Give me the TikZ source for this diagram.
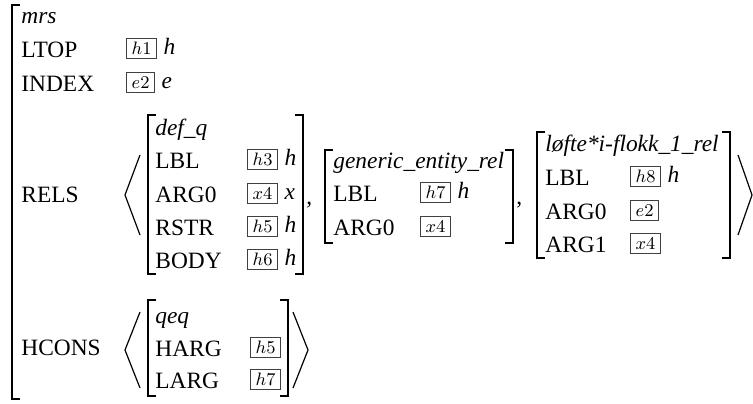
\documentclass[tikz,border=0pt]{standalone}
\usepackage{fontspec}
\setmainfont{Liberation Serif}
\usetikzlibrary{positioning}
\tikzset{
  feat/.style={anchor=base west,inner sep=0pt,font=\fontsize{11.7}{14}\selectfont},
  typ/.style={feat,font=\fontsize{11.7}{14}\selectfont\itshape},
  val/.style={feat,font=\fontsize{11.7}{14}\selectfont\itshape},
  tag/.style={draw=black!75,line width=0.5pt,anchor=base west,yshift=1.3pt,
    inner xsep=2.6pt,inner ysep=1.8pt,text height=6.2pt,text depth=0pt,
    font=\fontsize{9}{10}\selectfont},
  brk/.style={line width=0.8pt},
  ang/.style={line width=0.6pt}
}

\begin{document}
\begin{tikzpicture}[x=0.5pt,y=-0.5pt]
\useasboundingbox (0,0) rectangle (753,403);
% outer mrs
\draw [brk] (20,5) -- (12,5) -- (12,399) -- (20,399);
\node [typ] (mrs) at (21,23) {mrs};
\node [feat] (ltop) at (21,57) {LTOP};
\node [tag] (ltoptag) at (126,57) {$h1$};
\node [val,right=3pt of ltoptag.base east,anchor=base west] (ltopval) {h};
\node [feat] (index) at (21,91) {INDEX};
\node [tag] (indextag) at (126,91) {$e2$};
\node [val,right=3pt of indextag.base east,anchor=base west] (indexval) {e};
\node [feat] (rels) at (21,202) {RELS};
\node [feat] (hcons) at (21,355) {HCONS};

% RELS list
\draw [ang] (140,155) -- (125,195) -- (140,235);
\draw [ang] (738,155) -- (752,195) -- (738,235);

% def_q
\draw [brk] (156,115) -- (148,115) -- (148,274) -- (156,274);
\draw [brk] (295,115) -- (303,115) -- (303,274) -- (295,274);
\node [typ] (defq) at (155,135) {def\_q};
\node [feat] (dlbl) at (155,168) {LBL};
\node [tag] (dlbltag) at (247,168) {$h3$};
\node [val,right=3pt of dlbltag.base east,anchor=base west] (dlblval) {h};
\node [feat] (darg) at (155,202) {ARG0};
\node [tag] (dargtag) at (247,202) {$x4$};
\node [val,right=3pt of dargtag.base east,anchor=base west] (dargval) {x};
\node [feat] (drstr) at (155,235) {RSTR};
\node [tag] (drstrtag) at (247,235) {$h5$};
\node [val,right=3pt of drstrtag.base east,anchor=base west] (drstrval) {h};
\node [feat] (dbody) at (155,268) {BODY};
\node [tag] (dbodytag) at (247,268) {$h6$};
\node [val,right=3pt of dbodytag.base east,anchor=base west] (dbodyval) {h};
\node [feat] (comma1) at (306,204) {,};

% generic_entity_rel
\draw [brk] (333,150) -- (325,150) -- (325,243) -- (333,243);
\draw [brk] (505,150) -- (513,150) -- (513,243) -- (505,243);
\node [typ] (gen) at (333,168) {generic\_entity\_rel};
\node [feat] (glbl) at (333,201) {LBL};
\node [tag] (glbltag) at (420,201) {$h7$};
\node [val,right=3pt of glbltag.base east,anchor=base west] (glblval) {h};
\node [feat] (garg) at (333,235) {ARG0};
\node [tag] (gargtag) at (420,235) {$x4$};
\node [feat] (comma2) at (516,204) {,};

% loefte
\draw [brk] (545,132) -- (537,132) -- (537,258) -- (545,258);
\draw [brk] (722,132) -- (730,132) -- (730,258) -- (722,258);
\node [typ] (lof) at (545,151) {løfte*i-flokk\_1\_rel};
\node [feat] (llbl) at (545,185) {LBL};
\node [tag] (llbltag) at (630,185) {$h8$};
\node [val,right=3pt of llbltag.base east,anchor=base west] (llblval) {h};
\node [feat] (larg0) at (545,219) {ARG0};
\node [tag] (larg0tag) at (630,219) {$e2$};
\node [feat] (larg1) at (545,252) {ARG1};
\node [tag] (larg1tag) at (630,252) {$x4$};

% HCONS list
\draw [ang] (140,312) -- (125,350) -- (140,388);
\draw [ang] (293,312) -- (308,350) -- (293,388);
\draw [brk] (156,300) -- (148,300) -- (148,396) -- (156,396);
\draw [brk] (280,300) -- (288,300) -- (288,396) -- (280,396);
\node [typ] (qeq) at (155,323) {qeq};
\node [feat] (harg) at (155,356) {HARG};
\node [tag] (hargtag) at (250,356) {$h5$};
\node [feat] (larg) at (155,388) {LARG};
\node [tag] (largtag) at (250,388) {$h7$};
\end{tikzpicture}
\end{document}
